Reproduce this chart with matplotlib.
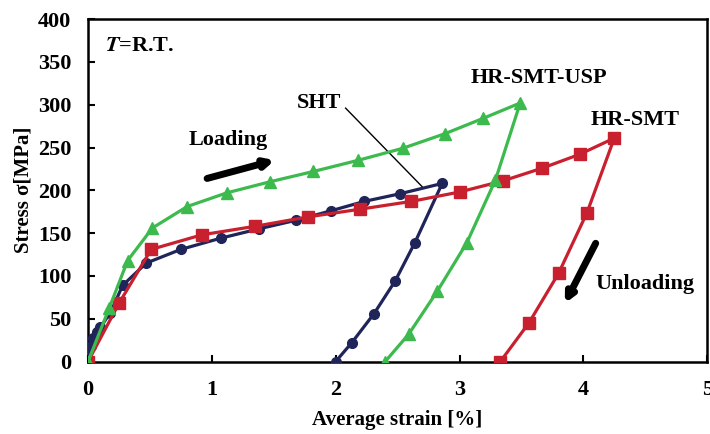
import matplotlib
matplotlib.use("Agg")
import matplotlib.pyplot as plt

# data (strain %, stress MPa)
sht_strain = [0, 0.02, 0.04, 0.07, 0.10, 0.18, 0.28, 0.47, 0.75, 1.07, 1.38, 1.68, 1.96,
              2.23, 2.52, 2.86, 2.64, 2.48, 2.31, 2.13, 2.00]
sht_stress = [0, 18, 27, 34, 40, 57, 89, 115, 131, 144, 155, 165, 176,
              187, 196, 208, 139, 94, 56, 22, 0]

smt_strain = [0, 0.25, 0.51, 0.92, 1.35, 1.78, 2.20, 2.61, 3.00, 3.35, 3.67, 3.97, 4.25,
              4.03, 3.80, 3.56, 3.33]
smt_stress = [0, 68, 131, 148, 158, 169, 178, 187, 198, 211, 226, 242, 261,
              174, 103, 45, 0]

usp_strain = [0, 0.17, 0.32, 0.52, 0.80, 1.12, 1.47, 1.82, 2.18, 2.54, 2.88, 3.19, 3.49,
              3.29, 3.06, 2.82, 2.59, 2.40]
usp_stress = [0, 62, 118, 156, 181, 197, 210, 222, 235, 249, 266, 284, 302,
              212, 139, 82, 32, 0]

plt.rcParams['font.family'] = ['Liberation Serif', 'DejaVu Serif']
plt.rcParams['font.weight'] = 'bold'
plt.rcParams['mathtext.fontset'] = 'stix'

fig = plt.figure(figsize=(7.1, 4.34), dpi=100)
ax = fig.add_axes([0.124, 0.167, 0.872, 0.789])

ax.plot(sht_strain, sht_stress, color='#1f2559', lw=2.3, marker='o', ms=7, zorder=3)
ax.plot(smt_strain, smt_stress, color='#c8202f', lw=2.3, marker='s', ms=9, zorder=4)
ax.plot(usp_strain, usp_stress, color='#3dba4e', lw=2.3, marker='^', ms=9, zorder=5)

ax.set_xlim(0, 5)
ax.set_ylim(0, 400)
ax.set_xticks(range(0, 6))
ax.set_yticks(range(0, 401, 50))
ax.tick_params(direction='in', length=5, width=1.5, labelsize=16)
ax.tick_params(axis='x', pad=13.5)
ax.tick_params(axis='y', pad=12)
for s in ax.spines.values():
    s.set_linewidth(1.8)

ax.set_xlabel('Average strain [%]', fontsize=15, fontweight='bold', labelpad=7)
ax.set_ylabel('Stress σ[MPa]', fontsize=15, fontweight='bold', labelpad=3)

ax.text(0.14, 368, '$\\mathbfit{T}$=R.T.', fontsize=16, fontweight='bold', va='center')
ax.text(1.69, 302, 'SHT', fontsize=16, fontweight='bold', va='center')
ax.plot([2.08, 2.70], [296, 204], color='black', lw=1)
ax.text(3.64, 331, 'HR-SMT-USP', fontsize=16, fontweight='bold', ha='center', va='center')
ax.text(4.42, 282, 'HR-SMT', fontsize=16, fontweight='bold', ha='center', va='center')
ax.text(1.13, 259, 'Loading', fontsize=16, fontweight='bold', ha='center', va='center')
ax.text(4.5, 90, 'Unloading', fontsize=16, fontweight='bold', ha='center', va='center')

ax.annotate('', xy=(1.53, 236), xytext=(0.94, 213),
            arrowprops=dict(arrowstyle='-|>,head_length=0.5,head_width=0.25',
                            color='black', lw=5))
ax.annotate('', xy=(3.84, 65), xytext=(4.11, 141),
            arrowprops=dict(arrowstyle='-|>,head_length=0.5,head_width=0.25',
                            color='black', lw=5))

fig.savefig('out.png', dpi=100)
